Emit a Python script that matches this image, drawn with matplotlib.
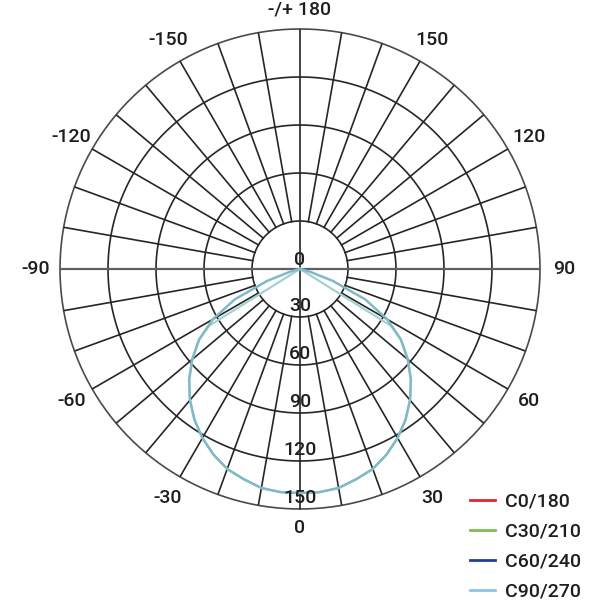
import numpy as np
import matplotlib
matplotlib.use("Agg")
import matplotlib.pyplot as plt
from matplotlib.lines import Line2D

# luminous intensity (gamma in degrees, I in cd)
gamma = [0, 5, 10, 15, 20, 25, 30, 35, 40, 45, 50, 55, 60, 65, 70, 75, 80, 90]
intensity = [140, 140, 139, 136, 133, 128, 122, 115, 107, 98, 88, 77, 63, 45, 22, 6, 0, 0]

# plane with the sharp cut-off
gamma_cut = [0, 5, 10, 15, 20, 25, 30, 35, 40, 45, 50, 55, 58, 58, 90]
intensity_cut = [140, 140, 139, 136, 133, 128, 122, 115, 107, 98, 88, 77, 67, 0, 0]

planes = ["C0/180", "C30/210", "C60/240", "C90/270"]
plane_colors = ["#e0252b", "#7cbf4f", "#233d96", "#8cc3e8"]

ring_values = [30, 60, 90, 120, 150]
radial_labels = ["0", "30", "60", "90", "120", "150"]
angle_ticks = [0, 30, 60, 90, 120, 150, 180, -150, -120, -90, -60, -30]
angle_labels = ["0", "30", "60", "90", "120", "150", "-/+ 180",
                "-150", "-120", "-90", "-60", "-30"]

plt.rcParams['font.family'] = ['Roboto', 'DejaVu Sans']
plt.rcParams['font.weight'] = 'medium'

fig = plt.figure(figsize=(6, 6), dpi=100)
ax = fig.add_axes([0.1, 0.1517, 0.8, 0.8], projection='polar')
ax.set_theta_zero_location('S')
ax.set_theta_direction(1)
ax.set_ylim(0, 150)
ax.grid(False)
ax.set_xticks([])
ax.set_yticks([])
ax.spines['polar'].set_visible(False)
ax.patch.set_alpha(0)

grid_c = '#262626'
# rings
th = np.linspace(0, 2 * np.pi, 721)
for r in ring_values:
    ax.plot(th, np.full_like(th, r), color=grid_c if r < 150 else '#4a4a4a',
            lw=1.2, clip_on=False, zorder=1)
# spokes every 10 degrees
for a in range(0, 360, 10):
    t = np.deg2rad(a)
    r0 = 0 if a % 90 == 0 else ring_values[0]
    c = '#606060' if a in (90, 270) else grid_c
    w = 1.6 if a in (90, 270) else 1.2
    ax.plot([t, t], [r0, 150], color=c, lw=w, zorder=1)

# curves, mirrored to the negative side
g = np.array(gamma, dtype=float)
i = np.array(intensity, dtype=float)
gc = np.array(gamma_cut, dtype=float)
ic = np.array(intensity_cut, dtype=float)
full_g = np.deg2rad(np.concatenate([-g[::-1], g[1:]]))
full_i = np.concatenate([i[::-1], i[1:]])
full_gc = np.deg2rad(np.concatenate([-gc[::-1], gc[1:]]))
full_ic = np.concatenate([ic[::-1], ic[1:]])
ax.plot(full_gc, full_ic, color='#a6d0d3', lw=1.6, zorder=3)
ax.plot(full_g, full_i, color='#80b9c7', lw=1.8, zorder=4)

# radial labels along the downward axis
for k, lab in enumerate(radial_labels):
    ax.text(0, k * 30 - 1 if k else 0, lab, ha='center', va='bottom',
            fontsize=14, color='#1e1e1e', zorder=5)

# angle labels
for a, lab in zip(angle_ticks, angle_labels):
    rr = 162 if a in (0, 180) else 165
    ax.text(np.deg2rad(a), rr, lab, ha='center', va='center',
            fontsize=14, color='#1e1e1e', clip_on=False)

handles = [Line2D([], [], color=c, lw=2) for c in plane_colors]
fig.legend(handles, planes, loc='lower right', bbox_to_anchor=(0.991, -0.024),
           frameon=False, fontsize=14, handlelength=1.3, handletextpad=0.5,
           labelspacing=0.62, borderpad=0.2, labelcolor='#1e1e1e')

fig.savefig('out.png', dpi=100)
